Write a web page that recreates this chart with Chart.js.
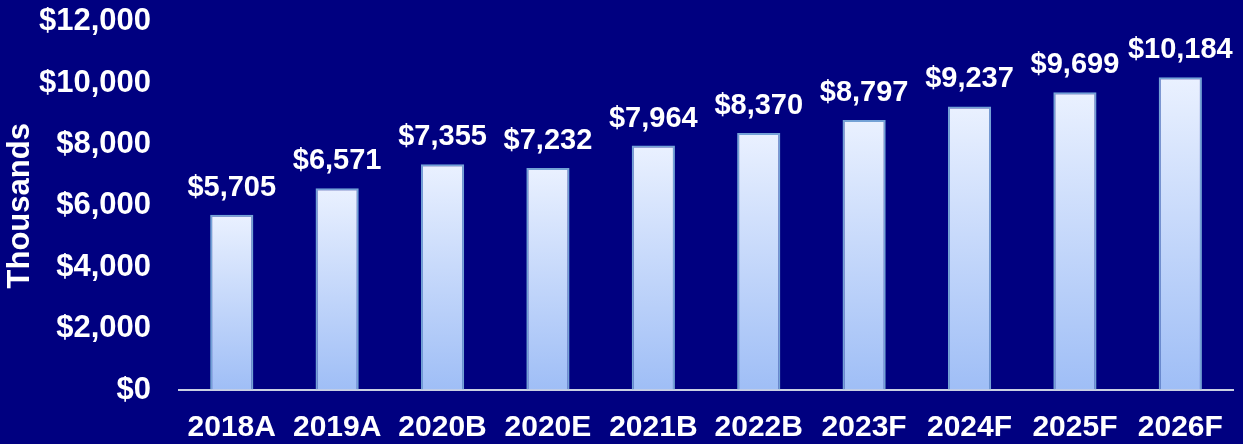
<!DOCTYPE html>
<html>
<head>
<meta charset="utf-8">
<script src="https://cdn.jsdelivr.net/npm/chart.js@4"></script>
<style>
  html, body { margin: 0; padding: 0; background: #000080; }
  #wrap { width: 1243px; height: 444px; }
</style>
</head>
<body>
<div id="wrap"><canvas id="myChart" width="1243" height="444"></canvas></div>
<script>
// the data
const years = ['2018A', '2019A', '2020B', '2020E', '2021B', '2022B', '2023F', '2024F', '2025F', '2026F']
const revenue = [5705, 6571, 7355, 7232, 7964, 8370, 8797, 9237, 9699, 10184]
const yTicks = [0, 2000, 4000, 6000, 8000, 10000, 12000]

const ctx = document.getElementById('myChart').getContext('2d')
const money = v => '$' + v.toLocaleString('en-US')
const FONT = '"Liberation Sans", Arial, sans-serif'

// labels above the bars
const valueLabels = {
    id: 'valueLabels',
    afterDatasetsDraw(chart) {
        const c = chart.ctx
        const bars = chart.getDatasetMeta(0).data
        c.save()
        c.fillStyle = '#ffffff'
        c.font = 'bold 29px ' + FONT
        c.textAlign = 'center'
        c.textBaseline = 'alphabetic'
        bars.forEach((bar, i) => {
            c.fillText(money(revenue[i]), bar.x, bar.y - 19)
        })
        c.restore()
    }
}

// each bar fades from white at its top to light blue at the base
function barFill(context) {
    const chart = context.chart
    if (!chart.chartArea) return '#c8dcff'
    const yScale = chart.scales.y
    const top = yScale.getPixelForValue(context.raw)
    const bottom = yScale.getPixelForValue(0)
    const g = chart.ctx.createLinearGradient(0, top, 0, bottom)
    g.addColorStop(0, '#eaf1ff')
    g.addColorStop(1, '#9fbef6')
    return g
}

var chart = new Chart(ctx, {
    type: 'bar',
    data: {
        labels: years,
        datasets: [{
            data: revenue,
            backgroundColor: barFill,
            borderColor: '#74a2d6',
            borderWidth: 2,
            categoryPercentage: 1.0,
            barPercentage: 0.41
        }]
    },
    options: {
        responsive: false,
        animation: false,
        layout: { padding: { top: 0, right: 3, left: 0, bottom: -22 } },
        plugins: {
            legend: { display: false },
            tooltip: { enabled: false }
        },
        scales: {
            x: {
                grid: { display: false, drawTicks: false },
                border: { display: true, color: '#c9d0e2', width: 2 },
                ticks: {
                    color: '#ffffff',
                    padding: 20,
                    maxRotation: 0,
                    font: { family: FONT, size: 30, weight: 'bold' }
                }
            },
            y: {
                min: 0,
                max: 12000,
                afterBuildTicks: axis => { axis.ticks = yTicks.map(v => ({ value: v })) },
                // invisible tick marks just to push the labels away from the bars
                grid: { display: true, drawOnChartArea: false, drawTicks: true, tickLength: 25, color: 'rgba(0,0,0,0)' },
                border: { display: false },
                title: {
                    display: true,
                    text: 'Thousands',
                    color: '#ffffff',
                    padding: { top: 5, bottom: 0 },
                    font: { family: FONT, size: 31, weight: 'bold', lineHeight: 1.0 }
                },
                ticks: {
                    color: '#ffffff',
                    padding: 3,
                    callback: v => money(v),
                    font: { family: FONT, size: 31, weight: 'bold' }
                }
            }
        }
    },
    plugins: [valueLabels]
})
</script>
</body>
</html>
